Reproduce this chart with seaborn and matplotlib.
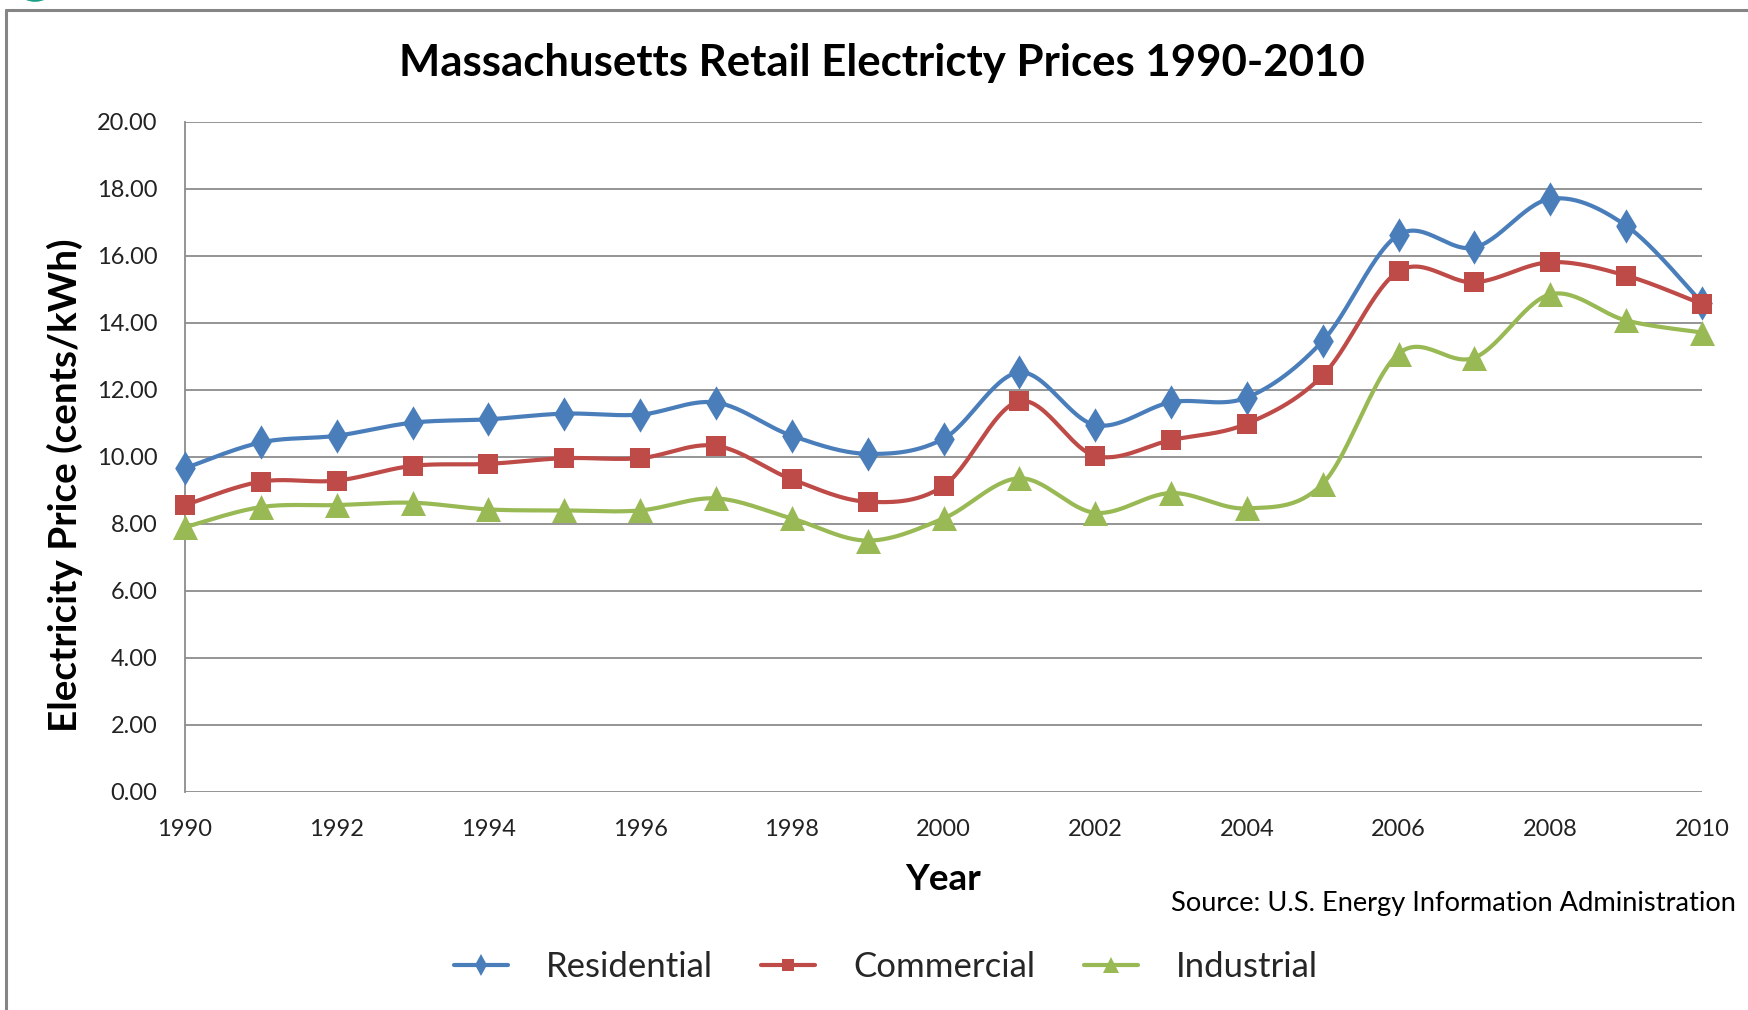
import numpy as np
import pandas as pd
import matplotlib
matplotlib.use("Agg")
import matplotlib.pyplot as plt
import seaborn as sns
from matplotlib.lines import Line2D
from matplotlib.patches import Circle

years = list(range(1990, 2011))
residential = [9.65, 10.42, 10.62, 11.01, 11.11, 11.28, 11.25, 11.61, 10.62, 10.08, 10.53,
               12.51, 10.94, 11.62, 11.76, 13.45, 16.62, 16.24, 17.69, 16.89, 14.59]
commercial = [8.55, 9.25, 9.28, 9.72, 9.78, 9.95, 9.95, 10.32, 9.32, 8.65, 9.12,
              11.65, 10.02, 10.49, 10.98, 12.42, 15.53, 15.20, 15.80, 15.40, 14.55]
industrial = [7.89, 8.49, 8.55, 8.62, 8.42, 8.39, 8.39, 8.75, 8.15, 7.49, 8.15,
              9.35, 8.32, 8.91, 8.45, 9.19, 13.07, 12.95, 14.84, 14.06, 13.70]
series_names = ["Residential", "Commercial", "Industrial"]
colors = {"Residential": "#4A7EBB", "Commercial": "#BE4B48", "Industrial": "#98B954"}
markers = {"Residential": "d", "Commercial": "s", "Industrial": "^"}
msizes = {"Residential": 17.5, "Commercial": 15, "Industrial": 18}
ytick_vals = [0, 2, 4, 6, 8, 10, 12, 14, 16, 18, 20]
xtick_vals = list(range(1990, 2011, 2))

df = pd.DataFrame({"Year": years, "Residential": residential,
                   "Commercial": commercial, "Industrial": industrial})
long = df.melt(id_vars="Year", var_name="Sector", value_name="Price")


def catmull_rom(x, y, n=30):
    x = np.asarray(x, float)
    y = np.asarray(y, float)
    px = np.concatenate([[x[0]], x, [x[-1]]])
    py = np.concatenate([[y[0]], y, [y[-1]]])
    xs, ys = [], []
    t = np.linspace(0, 1, n, endpoint=False)
    for i in range(1, len(px) - 2):
        p0, p1, p2, p3 = (np.array([px[j], py[j]]) for j in (i - 1, i, i + 1, i + 2))
        c1 = p1 + (p2 - p0) / 6
        c2 = p2 - (p3 - p1) / 6
        b = ((1 - t) ** 3)[:, None] * p1 + (3 * (1 - t) ** 2 * t)[:, None] * c1 + \
            (3 * (1 - t) * t ** 2)[:, None] * c2 + (t ** 3)[:, None] * p2
        xs.append(b[:, 0]); ys.append(b[:, 1])
    xs.append([x[-1]]); ys.append([y[-1]])
    return np.concatenate(xs), np.concatenate(ys)


sns.set_theme(style="white")
plt.rcParams['font.family'] = ['Lato', 'DejaVu Sans']

W, H = 1748, 1010
fig = plt.figure(figsize=(W / 100, H / 100), dpi=100)
fig.patch.set_facecolor("white")
ax = fig.add_axes([185 / W, 1 - 791.5 / H, (1702 - 185) / W, (791.5 - 121.5) / H])

smooth_rows = []
for name in series_names:
    sx, sy = catmull_rom(years, df[name].values)
    smooth_rows.append(pd.DataFrame({"Year": sx, "Price": sy, "Sector": name,
                                     "order": np.arange(len(sx))}))
smooth = pd.concat(smooth_rows, ignore_index=True)

sns.lineplot(data=smooth, x="Year", y="Price", hue="Sector", palette=colors,
             sort=False, estimator=None, units="Sector", linewidth=3.0,
             legend=False, ax=ax, zorder=3)
for name in series_names:
    sub = long[long["Sector"] == name]
    sns.scatterplot(data=sub, x="Year", y="Price", color=colors[name],
                    marker=markers[name], s=msizes[name] ** 2, linewidth=0,
                    legend=False, ax=ax, zorder=4, clip_on=False)

ax.set_xlim(1990, 2010)
ax.set_ylim(0, 20)
ax.set_yticks(ytick_vals)
ax.set_yticklabels([f"{v:.2f}" for v in ytick_vals])
ax.set_xticks(xtick_vals)
ax.set_xticklabels([str(v) for v in xtick_vals])
ax.yaxis.grid(True, color="#8C8C8C", linewidth=1.3)
ax.xaxis.grid(False)
ax.set_axisbelow(True)
for s in ["top", "right", "bottom"]:
    ax.spines[s].set_visible(False)
ax.spines["left"].set_color("#8C8C8C")
ax.spines["left"].set_linewidth(1.3)
ax.tick_params(axis="both", length=0, labelsize=17, colors="#222222")
ax.tick_params(axis="y", pad=20)
ax.tick_params(axis="x", pad=20)
ax.set_xlabel("")
ax.set_ylabel("")

fig.text(65 / W, 1 - 485 / H, "Electricity Price (cents/kWh)", rotation=90,
         ha="center", va="center", fontsize=27.8, fontweight="bold", color="black")
fig.text(943 / W, 1 - 880 / H, "Year", ha="center", va="center",
         fontsize=26.5, fontweight="bold", color="black")
fig.text(882 / W, 1 - 63 / H, "Massachusetts Retail Electricty Prices 1990-2010",
         ha="center", va="center", fontsize=31.5, fontweight="bold", color="black")
fig.text(1736 / W, 1 - 904 / H, "Source: U.S. Energy Information Administration",
         ha="right", va="center", fontsize=19.6, color="black")

handles = [Line2D([0], [0], color=colors[n], lw=3.0, marker=markers[n],
                  markersize=msizes[n] * 0.62, markeredgewidth=0) for n in series_names]
fig.legend(handles, series_names, loc="center", bbox_to_anchor=(886 / W, 1 - 967 / H),
           ncol=3, frameon=False, fontsize=25, handlelength=1.55, columnspacing=1.4,
           handletextpad=1.1)

# outer chart border (left & top visible)
fig.add_artist(Line2D([6 / W, 6 / W], [0, 1 - 9.5 / H], color="#858585", lw=2.2))
fig.add_artist(Line2D([6 / W, 1], [1 - 9.5 / H, 1 - 9.5 / H], color="#858585", lw=2.2))
fig.add_artist(Circle((35 / W, 1 + 7 / H), 14 / W, transform=fig.transFigure,
                      color="#17A084", clip_on=False))

fig.savefig("out.png", dpi=100)
